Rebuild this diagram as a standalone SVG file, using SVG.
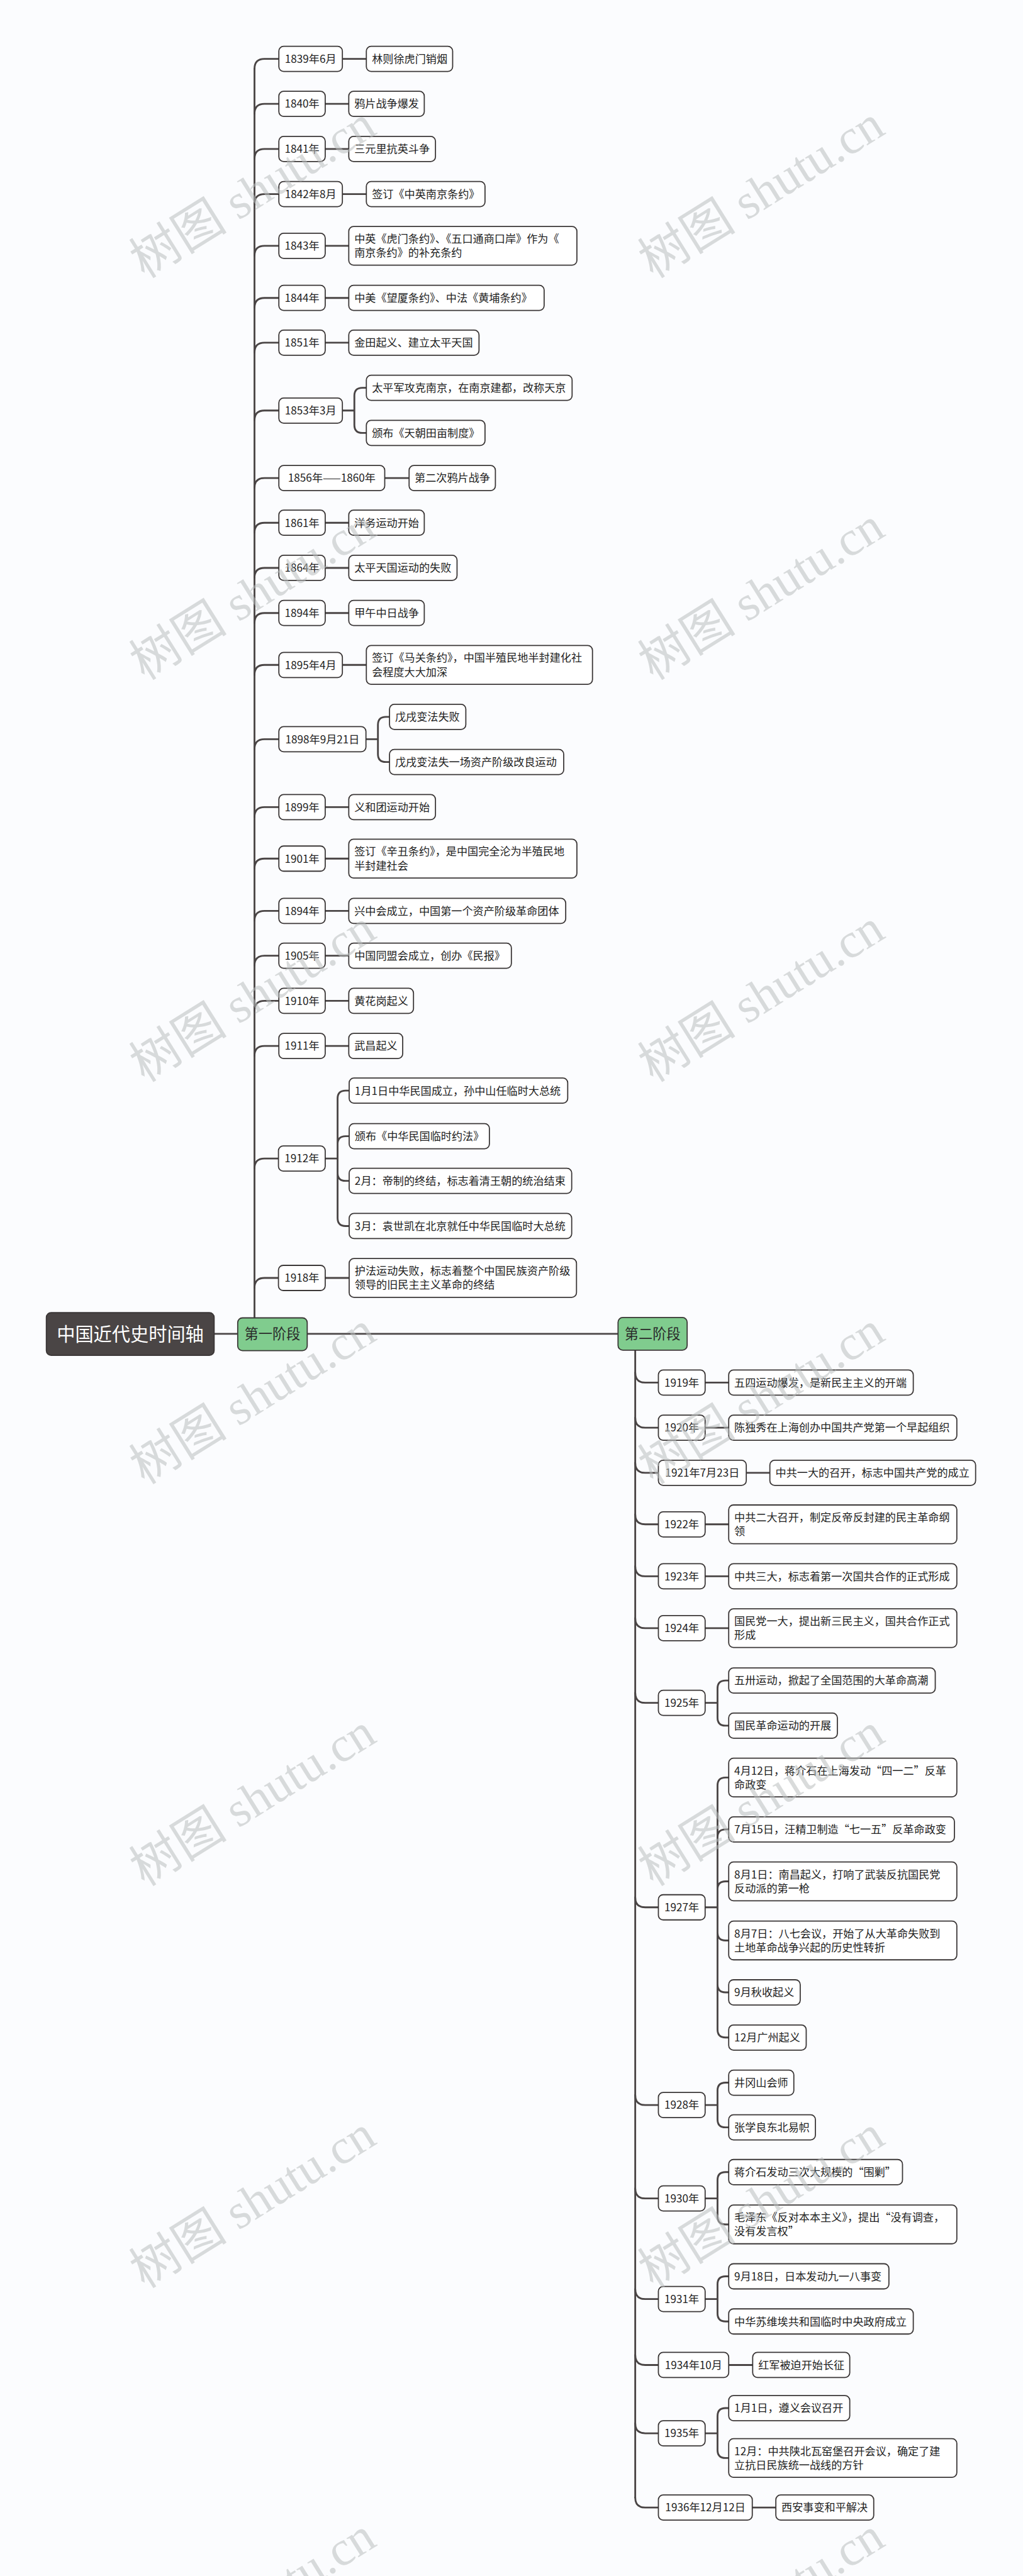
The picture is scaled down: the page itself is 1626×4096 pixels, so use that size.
<svg xmlns="http://www.w3.org/2000/svg" width="1626" height="4096" viewBox="0 0 1626 4096">
<style>
.b{fill:#ffffff;stroke:#3a3636;stroke-width:2.8}
.g{fill:#80cc8e;stroke:#3a3636;stroke-width:2.8}
.r{fill:#4a4545;stroke:#3a3636;stroke-width:2.8}
.t{font-family:"Noto Sans CJK SC","Noto Sans CJK TC",sans-serif;font-size:27px;fill:#222222}
.m{text-anchor:middle}
.s{font-size:35px;fill:#2a2a2a}
.rt{font-size:46px;fill:#ffffff}
.c{fill:none;stroke:#4a4545;stroke-width:4.5;stroke-linecap:round;stroke-linejoin:round}
.w{font-family:"Liberation Serif","Noto Sans CJK SC",serif;font-size:123px;fill:#b9bebe;fill-opacity:0.55}
</style>
<rect width="1626" height="4096" fill="#fbfcfe"/>
<g transform="scale(0.635)">
<g id="connectors">
<path class="c" d="M536 3340H595M769 3340H1547"/>
<path class="c" d="M637 3300V172.5"/>
<path class="c" d="M637 172.5Q637 147.5 662 147.5H698M637 285Q637 260 662 260H698M637 398Q637 373 662 373H698M637 511Q637 486 662 486H698M637 640.5Q637 615.5 662 615.5H698M637 771Q637 746 662 746H698M637 883Q637 858 662 858H698M637 1053Q637 1028 662 1028H698M637 1222Q637 1197 662 1197H698M637 1334Q637 1309 662 1309H698M637 1447Q637 1422 662 1422H698M637 1560Q637 1535 662 1535H698M637 1690Q637 1665 662 1665H698M637 1876Q637 1851 662 1851H698M637 2046Q637 2021 662 2021H698M637 2175Q637 2150 662 2150H698M637 2306Q637 2281 662 2281H698M637 2418Q637 2393 662 2393H698M637 2531Q637 2506 662 2506H698M637 2644Q637 2619 662 2619H698M637 2926Q637 2901 662 2901H697M637 3225Q637 3200 662 3200H697"/>
<path class="c" d="M857 147.5H917M814 260H873M814 373H873M857 486H917M814 615.5H873M814 746H873M814 858H873M963 1197H1024M814 1309H873M814 1422H873M814 1535H873M857 1665H917M814 2021H873M814 2150H873M814 2281H873M814 2393H873M814 2506H873M814 2619H873M814 3200H874"/>
<path class="c" d="M857 1028H887M887 1028V991Q887 971 907 971H917M887 1028V1064Q887 1084 907 1084H917"/>
<path class="c" d="M916 1851H946M946 1851V1815Q946 1795 966 1795H975M946 1851V1888Q946 1908 966 1908H975"/>
<path class="c" d="M814 2901H845M845 2901V2751Q845 2731 865 2731H874M845 2901V2865Q845 2845 865 2845H874M845 2901V2937Q845 2957 865 2957H874M845 2901V3050Q845 3070 865 3070H874"/>
<path class="c" d="M1590 3381V6254"/>
<path class="c" d="M1590 3437Q1590 3462 1615 3462H1648M1590 3550Q1590 3575 1615 3575H1648M1590 3663Q1590 3688 1615 3688H1648M1590 3792Q1590 3817 1615 3817H1648M1590 3922Q1590 3947 1615 3947H1648M1590 4052Q1590 4077 1615 4077H1648M1590 4239Q1590 4264 1615 4264H1648M1590 4751Q1590 4776 1615 4776H1648M1590 5246Q1590 5271 1615 5271H1648M1590 5480Q1590 5505 1615 5505H1648M1590 5732Q1590 5757 1615 5757H1648M1590 5897Q1590 5922 1615 5922H1648M1590 6068Q1590 6093 1615 6093H1648M1590 6254Q1590 6279 1615 6279H1648"/>
<path class="c" d="M1765 3462H1824M1765 3575H1824M1868 3688H1927M1765 3817H1824M1765 3947H1824M1765 4077H1824M1824 5922H1884M1883 6279H1942"/>
<path class="c" d="M1765 4264H1796M1796 4264V4228Q1796 4208 1816 4208H1824M1796 4264V4301Q1796 4321 1816 4321H1824"/>
<path class="c" d="M1765 4776H1796M1796 4776V4471Q1796 4451 1816 4451H1824M1796 4776V4601Q1796 4581 1816 4581H1824M1796 4776V4731Q1796 4711 1816 4711H1824M1796 4776V4839Q1796 4859 1816 4859H1824M1796 4776V4969Q1796 4989 1816 4989H1824M1796 4776V5082Q1796 5102 1816 5102H1824"/>
<path class="c" d="M1765 5271H1796M1796 5271V5235Q1796 5215 1816 5215H1824M1796 5271V5307Q1796 5327 1816 5327H1824"/>
<path class="c" d="M1765 5505H1796M1796 5505V5459Q1796 5439 1816 5439H1824M1796 5505V5550Q1796 5570 1816 5570H1824"/>
<path class="c" d="M1765 5757H1796M1796 5757V5720Q1796 5700 1816 5700H1824M1796 5757V5793Q1796 5813 1816 5813H1824"/>
<path class="c" d="M1765 6093H1796M1796 6093V6050Q1796 6030 1816 6030H1824M1796 6093V6135Q1796 6155 1816 6155H1824"/>
</g>
<g id="root"><rect class="r" x="116" y="3287" width="420" height="107" rx="12"/><text class="t rt m" x="326" y="3357">中国近代史时间轴</text></g>
<g id="stage1"><rect class="g" x="595" y="3300" width="174" height="82" rx="12"/><text class="t s m" x="682" y="3353">第一阶段</text></g>
<g id="stage2"><rect class="g" x="1547" y="3299" width="173" height="82" rx="12"/><text class="t s m" x="1633.5" y="3352">第二阶段</text></g>

<g id="d1839"><rect class="b" x="698" y="116" width="159" height="63" rx="12"/><text class="t m" x="777.5" y="157.5">1839年6月</text></g>
<g id="c1839"><rect class="b" x="917" y="116" width="216" height="63" rx="12"/><text class="t" x="931" y="157.5">林则徐虎门销烟</text></g>
<g id="d1840"><rect class="b" x="698" y="228.5" width="116" height="63" rx="12"/><text class="t m" x="756" y="270">1840年</text></g>
<g id="c1840"><rect class="b" x="873" y="228.5" width="189" height="63" rx="12"/><text class="t" x="887" y="270">鸦片战争爆发</text></g>
<g id="d1841"><rect class="b" x="698" y="341.5" width="116" height="63" rx="12"/><text class="t m" x="756" y="383">1841年</text></g>
<g id="c1841"><rect class="b" x="873" y="341.5" width="217" height="63" rx="12"/><text class="t" x="887" y="383">三元里抗英斗争</text></g>
<g id="d1842"><rect class="b" x="698" y="454.5" width="159" height="63" rx="12"/><text class="t m" x="777.5" y="496">1842年8月</text></g>
<g id="c1842"><rect class="b" x="917" y="454.5" width="297" height="63" rx="12"/><text class="t" x="931" y="496">签订《中英南京条约》</text></g>
<g id="d1843"><rect class="b" x="698" y="584" width="116" height="63" rx="12"/><text class="t m" x="756" y="625.5">1843年</text></g>
<g id="c1843"><rect class="b" x="873" y="567" width="571" height="97" rx="12"/><text class="t" x="887" y="608">中英《虎门条约》、《五口通商口岸》作为《<tspan x="887" y="643">南京条约》的补充条约</tspan></text></g>
<g id="d1844"><rect class="b" x="698" y="714.5" width="116" height="63" rx="12"/><text class="t m" x="756" y="756">1844年</text></g>
<g id="c1844"><rect class="b" x="873" y="714.5" width="489" height="63" rx="12"/><text class="t" x="887" y="756">中美《望厦条约》、中法《黄埔条约》</text></g>
<g id="d1851"><rect class="b" x="698" y="826.5" width="116" height="63" rx="12"/><text class="t m" x="756" y="868">1851年</text></g>
<g id="c1851"><rect class="b" x="873" y="826.5" width="326" height="63" rx="12"/><text class="t" x="887" y="868">金田起义、建立太平天国</text></g>
<g id="d1853"><rect class="b" x="698" y="996.5" width="159" height="63" rx="12"/><text class="t m" x="777.5" y="1038">1853年3月</text></g>
<g id="c1853a"><rect class="b" x="917" y="939.5" width="515" height="63" rx="12"/><text class="t" x="931" y="981">太平军攻克南京，在南京建都，改称天京</text></g>
<g id="c1853b"><rect class="b" x="917" y="1052.5" width="297" height="63" rx="12"/><text class="t" x="931" y="1094">颁布《天朝田亩制度》</text></g>
<g id="d1856"><rect class="b" x="698" y="1165.5" width="265" height="63" rx="12"/><text class="t m" x="830.5" y="1207">1856年——1860年</text></g>
<g id="c1856"><rect class="b" x="1024" y="1165.5" width="216" height="63" rx="12"/><text class="t" x="1038" y="1207">第二次鸦片战争</text></g>
<g id="d1861"><rect class="b" x="698" y="1277.5" width="116" height="63" rx="12"/><text class="t m" x="756" y="1319">1861年</text></g>
<g id="c1861"><rect class="b" x="873" y="1277.5" width="189" height="63" rx="12"/><text class="t" x="887" y="1319">洋务运动开始</text></g>
<g id="d1864"><rect class="b" x="698" y="1390.5" width="116" height="63" rx="12"/><text class="t m" x="756" y="1432">1864年</text></g>
<g id="c1864"><rect class="b" x="873" y="1390.5" width="271" height="63" rx="12"/><text class="t" x="887" y="1432">太平天国运动的失败</text></g>
<g id="d1894a"><rect class="b" x="698" y="1503.5" width="116" height="63" rx="12"/><text class="t m" x="756" y="1545">1894年</text></g>
<g id="c1894a"><rect class="b" x="873" y="1503.5" width="189" height="63" rx="12"/><text class="t" x="887" y="1545">甲午中日战争</text></g>
<g id="d1895"><rect class="b" x="698" y="1633.5" width="159" height="63" rx="12"/><text class="t m" x="777.5" y="1675">1895年4月</text></g>
<g id="c1895"><rect class="b" x="917" y="1616.5" width="566" height="97" rx="12"/><text class="t" x="931" y="1657.5">签订《马关条约》，中国半殖民地半封建化社<tspan x="931" y="1692.5">会程度大大加深</tspan></text></g>
<g id="d1898"><rect class="b" x="698" y="1819.5" width="218" height="63" rx="12"/><text class="t m" x="807" y="1861">1898年9月21日</text></g>
<g id="c1898a"><rect class="b" x="975" y="1763.5" width="191" height="63" rx="12"/><text class="t" x="989" y="1805">戊戌变法失败</text></g>
<g id="c1898b"><rect class="b" x="975" y="1876.5" width="436" height="63" rx="12"/><text class="t" x="989" y="1918">戊戌变法失一场资产阶级改良运动</text></g>
<g id="d1899"><rect class="b" x="698" y="1989.5" width="116" height="63" rx="12"/><text class="t m" x="756" y="2031">1899年</text></g>
<g id="c1899"><rect class="b" x="873" y="1989.5" width="217" height="63" rx="12"/><text class="t" x="887" y="2031">义和团运动开始</text></g>
<g id="d1901"><rect class="b" x="698" y="2118.5" width="116" height="63" rx="12"/><text class="t m" x="756" y="2160">1901年</text></g>
<g id="c1901"><rect class="b" x="873" y="2101.5" width="571" height="97" rx="12"/><text class="t" x="887" y="2142.5">签订《辛丑条约》，是中国完全沦为半殖民地<tspan x="887" y="2177.5">半封建社会</tspan></text></g>
<g id="d1894b"><rect class="b" x="698" y="2249.5" width="116" height="63" rx="12"/><text class="t m" x="756" y="2291">1894年</text></g>
<g id="c1894b"><rect class="b" x="873" y="2249.5" width="543" height="63" rx="12"/><text class="t" x="887" y="2291">兴中会成立，中国第一个资产阶级革命团体</text></g>
<g id="d1905"><rect class="b" x="698" y="2361.5" width="116" height="63" rx="12"/><text class="t m" x="756" y="2403">1905年</text></g>
<g id="c1905"><rect class="b" x="873" y="2361.5" width="407" height="63" rx="12"/><text class="t" x="887" y="2403">中国同盟会成立，创办《民报》</text></g>
<g id="d1910"><rect class="b" x="698" y="2474.5" width="116" height="63" rx="12"/><text class="t m" x="756" y="2516">1910年</text></g>
<g id="c1910"><rect class="b" x="873" y="2474.5" width="162" height="63" rx="12"/><text class="t" x="887" y="2516">黄花岗起义</text></g>
<g id="d1911"><rect class="b" x="698" y="2587.5" width="116" height="63" rx="12"/><text class="t m" x="756" y="2629">1911年</text></g>
<g id="c1911"><rect class="b" x="873" y="2587.5" width="135" height="63" rx="12"/><text class="t" x="887" y="2629">武昌起义</text></g>
<g id="d1912"><rect class="b" x="697" y="2869.5" width="117" height="63" rx="12"/><text class="t m" x="755.5" y="2911">1912年</text></g>
<g id="c1912a"><rect class="b" x="874" y="2699.5" width="547" height="63" rx="12"/><text class="t" x="888" y="2741">1月1日中华民国成立，孙中山任临时大总统</text></g>
<g id="c1912b"><rect class="b" x="874" y="2813.5" width="351" height="63" rx="12"/><text class="t" x="888" y="2855">颁布《中华民国临时约法》</text></g>
<g id="c1912c"><rect class="b" x="874" y="2925.5" width="557" height="63" rx="12"/><text class="t" x="888" y="2967">2月：帝制的终结，标志着清王朝的统治结束</text></g>
<g id="c1912d"><rect class="b" x="874" y="3038.5" width="557" height="63" rx="12"/><text class="t" x="888" y="3080">3月：袁世凯在北京就任中华民国临时大总统</text></g>
<g id="d1918"><rect class="b" x="697" y="3168.5" width="117" height="63" rx="12"/><text class="t m" x="755.5" y="3210">1918年</text></g>
<g id="c1918"><rect class="b" x="874" y="3151.5" width="569" height="97" rx="12"/><text class="t" x="888" y="3192.5">护法运动失败，标志着整个中国民族资产阶级<tspan x="888" y="3227.5">领导的旧民主主义革命的终结</tspan></text></g>

<g id="d1919"><rect class="b" x="1648" y="3430.5" width="117" height="63" rx="12"/><text class="t m" x="1706.5" y="3472">1919年</text></g>
<g id="c1919"><rect class="b" x="1824" y="3430.5" width="462" height="63" rx="12"/><text class="t" x="1838" y="3472">五四运动爆发，是新民主主义的开端</text></g>
<g id="d1920"><rect class="b" x="1648" y="3543.5" width="117" height="63" rx="12"/><text class="t m" x="1706.5" y="3585">1920年</text></g>
<g id="c1920"><rect class="b" x="1824" y="3543.5" width="571" height="63" rx="12"/><text class="t" x="1838" y="3585">陈独秀在上海创办中国共产党第一个早起组织</text></g>
<g id="d1921"><rect class="b" x="1648" y="3656.5" width="220" height="63" rx="12"/><text class="t m" x="1758" y="3698">1921年7月23日</text></g>
<g id="c1921"><rect class="b" x="1927" y="3656.5" width="515" height="63" rx="12"/><text class="t" x="1941" y="3698">中共一大的召开，标志中国共产党的成立</text></g>
<g id="d1922"><rect class="b" x="1648" y="3785.5" width="117" height="63" rx="12"/><text class="t m" x="1706.5" y="3827">1922年</text></g>
<g id="c1922"><rect class="b" x="1824" y="3768.5" width="571" height="97" rx="12"/><text class="t" x="1838" y="3809.5">中共二大召开，制定反帝反封建的民主革命纲<tspan x="1838" y="3844.5">领</tspan></text></g>
<g id="d1923"><rect class="b" x="1648" y="3915.5" width="117" height="63" rx="12"/><text class="t m" x="1706.5" y="3957">1923年</text></g>
<g id="c1923"><rect class="b" x="1824" y="3915.5" width="571" height="63" rx="12"/><text class="t" x="1838" y="3957">中共三大，标志着第一次国共合作的正式形成</text></g>
<g id="d1924"><rect class="b" x="1648" y="4045.5" width="117" height="63" rx="12"/><text class="t m" x="1706.5" y="4087">1924年</text></g>
<g id="c1924"><rect class="b" x="1824" y="4028.5" width="571" height="97" rx="12"/><text class="t" x="1838" y="4069.5">国民党一大，提出新三民主义，国共合作正式<tspan x="1838" y="4104.5">形成</tspan></text></g>
<g id="d1925"><rect class="b" x="1648" y="4232.5" width="117" height="63" rx="12"/><text class="t m" x="1706.5" y="4274">1925年</text></g>
<g id="c1925a"><rect class="b" x="1824" y="4176.5" width="517" height="63" rx="12"/><text class="t" x="1838" y="4218">五卅运动，掀起了全国范围的大革命高潮</text></g>
<g id="c1925b"><rect class="b" x="1824" y="4289.5" width="272" height="63" rx="12"/><text class="t" x="1838" y="4331">国民革命运动的开展</text></g>
<g id="d1927"><rect class="b" x="1648" y="4744.5" width="117" height="63" rx="12"/><text class="t m" x="1706.5" y="4786">1927年</text></g>
<g id="c1927a"><rect class="b" x="1824" y="4402.5" width="571" height="97" rx="12"/><text class="t" x="1838" y="4443.5">4月12日，蒋介石在上海发动“四一二”反革<tspan x="1838" y="4478.5">命政变</tspan></text></g>
<g id="c1927b"><rect class="b" x="1824" y="4549.5" width="565" height="63" rx="12"/><text class="t" x="1838" y="4591">7月15日，汪精卫制造“七一五”反革命政变</text></g>
<g id="c1927c"><rect class="b" x="1824" y="4662.5" width="571" height="97" rx="12"/><text class="t" x="1838" y="4703.5">8月1日：南昌起义，打响了武装反抗国民党<tspan x="1838" y="4738.5">反动派的第一枪</tspan></text></g>
<g id="c1927d"><rect class="b" x="1824" y="4810.5" width="571" height="97" rx="12"/><text class="t" x="1838" y="4851.5">8月7日：八七会议，开始了从大革命失败到<tspan x="1838" y="4886.5">土地革命战争兴起的历史性转折</tspan></text></g>
<g id="c1927e"><rect class="b" x="1824" y="4957.5" width="179" height="63" rx="12"/><text class="t" x="1838" y="4999">9月秋收起义</text></g>
<g id="c1927f"><rect class="b" x="1824" y="5070.5" width="194" height="63" rx="12"/><text class="t" x="1838" y="5112">12月广州起义</text></g>
<g id="d1928"><rect class="b" x="1648" y="5239.5" width="117" height="63" rx="12"/><text class="t m" x="1706.5" y="5281">1928年</text></g>
<g id="c1928a"><rect class="b" x="1824" y="5183.5" width="163" height="63" rx="12"/><text class="t" x="1838" y="5225">井冈山会师</text></g>
<g id="c1928b"><rect class="b" x="1824" y="5295.5" width="217" height="63" rx="12"/><text class="t" x="1838" y="5337">张学良东北易帜</text></g>
<g id="d1930"><rect class="b" x="1648" y="5473.5" width="117" height="63" rx="12"/><text class="t m" x="1706.5" y="5515">1930年</text></g>
<g id="c1930a"><rect class="b" x="1824" y="5407.5" width="435" height="63" rx="12"/><text class="t" x="1838" y="5449">蒋介石发动三次大规模的“围剿”</text></g>
<g id="c1930b"><rect class="b" x="1824" y="5521.5" width="571" height="97" rx="12"/><text class="t" x="1838" y="5562.5">毛泽东《反对本本主义》，提出“没有调查，<tspan x="1838" y="5597.5">没有发言权”</tspan></text></g>
<g id="d1931"><rect class="b" x="1648" y="5725.5" width="117" height="63" rx="12"/><text class="t m" x="1706.5" y="5767">1931年</text></g>
<g id="c1931a"><rect class="b" x="1824" y="5668.5" width="401" height="63" rx="12"/><text class="t" x="1838" y="5710">9月18日，日本发动九一八事变</text></g>
<g id="c1931b"><rect class="b" x="1824" y="5781.5" width="462" height="63" rx="12"/><text class="t" x="1838" y="5823">中华苏维埃共和国临时中央政府成立</text></g>
<g id="d1934"><rect class="b" x="1648" y="5890.5" width="176" height="63" rx="12"/><text class="t m" x="1736" y="5932">1934年10月</text></g>
<g id="c1934"><rect class="b" x="1884" y="5890.5" width="243" height="63" rx="12"/><text class="t" x="1898" y="5932">红军被迫开始长征</text></g>
<g id="d1935"><rect class="b" x="1648" y="6061.5" width="117" height="63" rx="12"/><text class="t m" x="1706.5" y="6103">1935年</text></g>
<g id="c1935a"><rect class="b" x="1824" y="5998.5" width="303" height="63" rx="12"/><text class="t" x="1838" y="6040">1月1日，遵义会议召开</text></g>
<g id="c1935b"><rect class="b" x="1824" y="6106.5" width="571" height="97" rx="12"/><text class="t" x="1838" y="6147.5">12月：中共陕北瓦窑堡召开会议，确定了建<tspan x="1838" y="6182.5">立抗日民族统一战线的方针</tspan></text></g>
<g id="d1936"><rect class="b" x="1648" y="6247.5" width="235" height="63" rx="12"/><text class="t m" x="1765.5" y="6289">1936年12月12日</text></g>
<g id="c1936"><rect class="b" x="1942" y="6247.5" width="245" height="63" rx="12"/><text class="t" x="1956" y="6289">西安事变和平解决</text></g>

<g id="watermarks">
<text class="w" x="362" y="699" transform="rotate(-32 362 699)">树图 shutu.cn</text>
<text class="w" x="1635" y="699" transform="rotate(-32 1635 699)">树图 shutu.cn</text>
<text class="w" x="362" y="1705" transform="rotate(-32 362 1705)">树图 shutu.cn</text>
<text class="w" x="1635" y="1705" transform="rotate(-32 1635 1705)">树图 shutu.cn</text>
<text class="w" x="362" y="2712" transform="rotate(-32 362 2712)">树图 shutu.cn</text>
<text class="w" x="1635" y="2712" transform="rotate(-32 1635 2712)">树图 shutu.cn</text>
<text class="w" x="362" y="3719" transform="rotate(-32 362 3719)">树图 shutu.cn</text>
<text class="w" x="1635" y="3719" transform="rotate(-32 1635 3719)">树图 shutu.cn</text>
<text class="w" x="362" y="4725" transform="rotate(-32 362 4725)">树图 shutu.cn</text>
<text class="w" x="1635" y="4725" transform="rotate(-32 1635 4725)">树图 shutu.cn</text>
<text class="w" x="362" y="5732" transform="rotate(-32 362 5732)">树图 shutu.cn</text>
<text class="w" x="1635" y="5732" transform="rotate(-32 1635 5732)">树图 shutu.cn</text>
<text class="w" x="362" y="6738" transform="rotate(-32 362 6738)">树图 shutu.cn</text>
<text class="w" x="1635" y="6738" transform="rotate(-32 1635 6738)">树图 shutu.cn</text>
</g>
</g>
</svg>
